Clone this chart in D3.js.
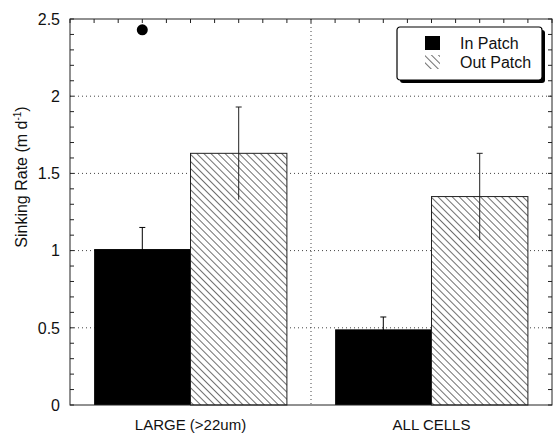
<!DOCTYPE html>
<html>
<head>
<meta charset="utf-8">
<script src="https://cdn.jsdelivr.net/npm/d3@7"></script>
<style>
body { margin:0; background:#fff; }
text { font-family: "Liberation Sans", Arial, sans-serif; fill:#111; }
</style>
</head>
<body>
<div id="chart-area"></div>
<script>
// data
var categories = ["LARGE (>22um)", "ALL CELLS"];
var series = ["In Patch", "Out Patch"];
var inPatch = [1.01, 0.49];
var inPatchErr = [0.14, 0.08];
var outPatch = [1.63, 1.35];
var outPatchErr = [0.30, 0.28];
var outlierCat = ["LARGE (>22um)"];
var outlierVal = [2.43];
var yTicks = [0, 0.5, 1, 1.5, 2, 2.5];

var W = 553, H = 434;
var margin = {left:70, right:1, top:19, bottom:29};
var width = W - margin.left - margin.right;
var height = H - margin.top - margin.bottom;

var svg = d3.select("#chart-area").append("svg")
	.attr("width", W).attr("height", H);

var defs = svg.append("defs");
var pat = defs.append("pattern")
	.attr("id","hatch")
	.attr("patternUnits","userSpaceOnUse")
	.attr("width",5).attr("height",5)
	.attr("patternTransform","rotate(45)");
pat.append("rect").attr("width",5).attr("height",5).attr("fill","#fff");
pat.append("line")
	.attr("x1",0).attr("y1",0).attr("x2",5).attr("y2",0)
	.attr("stroke","#111").attr("stroke-width",1.2);

var g = svg.append("g")
	.attr("transform","translate("+margin.left+","+margin.top+")");

var y = d3.scaleLinear().domain([0,2.5]).range([height,0]);
var x = d3.scaleBand().domain(categories).range([0,width])
	.paddingInner(0.2).paddingOuter(0.1);
var xs = d3.scaleBand().domain(series).range([0,x.bandwidth()]);
var xt = d3.scaleLinear().domain([0,20]).range([0,width]);

// dotted grid
g.selectAll(".hgrid").data([0.5,1,1.5,2]).enter().append("line")
	.attr("x1",0).attr("x2",width)
	.attr("y1",function(d){ return y(d); }).attr("y2",function(d){ return y(d); })
	.attr("stroke","#444").attr("stroke-dasharray","1,3");
g.append("line")
	.attr("x1",xt(10)).attr("x2",xt(10))
	.attr("y1",0).attr("y2",height)
	.attr("stroke","#444").attr("stroke-dasharray","1,3");

// minor ticks, inward
var minor = d3.range(0,2.51,0.1);
g.selectAll(".lt").data(minor).enter().append("line")
	.attr("x1",0).attr("x2",4)
	.attr("y1",function(d){ return y(d); }).attr("y2",function(d){ return y(d); })
	.attr("stroke","#222");
g.selectAll(".rt").data(minor).enter().append("line")
	.attr("x1",width-4).attr("x2",width)
	.attr("y1",function(d){ return y(d); }).attr("y2",function(d){ return y(d); })
	.attr("stroke","#222");
g.selectAll(".tt").data(d3.range(0,21)).enter().append("line")
	.attr("x1",function(d){ return xt(d); }).attr("x2",function(d){ return xt(d); })
	.attr("y1",0).attr("y2",4)
	.attr("stroke","#222");

// bars
var rows = categories.map(function(c,i){
	return {cat:c, inV:inPatch[i], inE:inPatchErr[i], outV:outPatch[i], outE:outPatchErr[i]};
});

g.selectAll(".bin").data(rows).enter().append("rect")
	.attr("x",function(d){ return x(d.cat)+xs("In Patch"); })
	.attr("y",function(d){ return y(d.inV); })
	.attr("width",xs.bandwidth())
	.attr("height",function(d){ return height-y(d.inV); })
	.attr("fill","#000");

g.selectAll(".bout").data(rows).enter().append("rect")
	.attr("x",function(d){ return x(d.cat)+xs("Out Patch"); })
	.attr("y",function(d){ return y(d.outV); })
	.attr("width",xs.bandwidth())
	.attr("height",function(d){ return height-y(d.outV); })
	.attr("fill","url(#hatch)")
	.attr("stroke","#222").attr("stroke-width",1);

// error bars
function errBars(key, val, err, cls, col) {
	var cx = function(d){ return x(d.cat)+xs(key)+xs.bandwidth()/2; };
	g.selectAll(".e"+cls).data(rows).enter().append("line")
		.attr("x1",cx).attr("x2",cx)
		.attr("y1",function(d){ return y(d[val]-d[err]); })
		.attr("y2",function(d){ return y(d[val]+d[err]); })
		.attr("stroke",col).attr("stroke-width",1);
	g.selectAll(".c"+cls).data(rows).enter().append("line")
		.attr("x1",function(d){ return cx(d)-3; }).attr("x2",function(d){ return cx(d)+3; })
		.attr("y1",function(d){ return y(d[val]+d[err]); })
		.attr("y2",function(d){ return y(d[val]+d[err]); })
		.attr("stroke",col).attr("stroke-width",1);
}
errBars("In Patch","inV","inE","in","#000");
errBars("Out Patch","outV","outE","out","#222");

// outlier point
g.selectAll(".pt").data(outlierVal).enter().append("circle")
	.attr("cx",function(d,i){ return x(outlierCat[i])+xs("In Patch")+xs.bandwidth()/2; })
	.attr("cy",function(d){ return y(d); })
	.attr("r",5.5)
	.attr("fill","#000");

// frame
g.append("rect").attr("width",width).attr("height",height)
	.attr("fill","none").attr("stroke","#222").attr("stroke-width",1);

// tick labels
g.selectAll(".yl").data(yTicks).enter().append("text")
	.attr("x",-10).attr("y",function(d){ return y(d); })
	.attr("dy","0.36em")
	.attr("text-anchor","end")
	.attr("font-size","16px")
	.text(function(d){ return d; });

g.selectAll(".xl").data(categories).enter().append("text")
	.attr("x",function(d){ return x(d)+x.bandwidth()/2; })
	.attr("y",height+25)
	.attr("text-anchor","middle")
	.attr("font-size","15px")
	.text(function(d){ return d; });

// y title
var yt = svg.append("text")
	.attr("transform","translate(27,177) rotate(-90)")
	.attr("text-anchor","middle")
	.attr("font-size","16px");
yt.append("tspan").text("Sinking Rate (m d");
yt.append("tspan").attr("dy","-6").attr("font-size","10px").text("-1");
yt.append("tspan").attr("dy","6").text(")");

// legend
var lg = svg.append("g").attr("transform","translate(397,27)");
lg.append("rect").attr("x",3).attr("y",3).attr("width",145).attr("height",53)
	.attr("rx",3).attr("fill","#000");
lg.append("rect").attr("width",145).attr("height",53)
	.attr("rx",3).attr("fill","#fff").attr("stroke","#000").attr("stroke-width",1.2);
var legFill = ["#000","url(#hatch)"];
series.forEach(function(s,i){
	lg.append("rect").attr("x",28).attr("y",9+i*19).attr("width",15).attr("height",14)
		.attr("fill",legFill[i]);
	lg.append("text").attr("x",63).attr("y",22+i*19)
		.attr("font-size","16px").text(s);
});
</script>
</body>
</html>
